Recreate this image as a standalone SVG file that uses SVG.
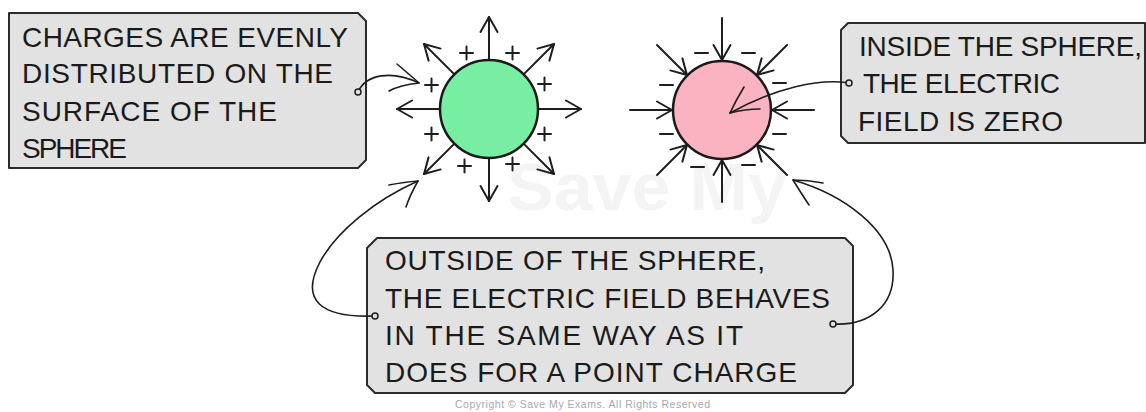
<svg xmlns="http://www.w3.org/2000/svg" width="1146" height="412" viewBox="0 0 1146 412">
<style>
.box{fill:#e2e2e2;stroke:#2b2b2b;stroke-width:2;stroke-linejoin:round}
.t{font-family:"Liberation Sans",Arial,sans-serif;font-size:28px;fill:#1a1a1a}
.ln{fill:none;stroke:#1e1e1e;stroke-width:2;stroke-linecap:round;stroke-linejoin:round}
.cn{fill:none;stroke:#1e1e1e;stroke-width:1.6;stroke-linecap:round;stroke-linejoin:round}
.dot{fill:#e2e2e2;stroke:#1e1e1e;stroke-width:1.5}
.sph{stroke:#1a1a1a;stroke-width:2.5}
.wm{font-family:"Liberation Sans",Arial,sans-serif;font-weight:bold;fill:#f4f4f4}
</style>
<defs>
<marker id="ah" markerUnits="userSpaceOnUse" markerWidth="30" markerHeight="30" viewBox="-20 -15 30 30" refX="0" refY="0" orient="auto">
<path d="M-15,-8.5 L0,0 L-15,8.5" fill="none" stroke="#1e1e1e" stroke-width="2" stroke-linecap="round" stroke-linejoin="round"/>
</marker>
</defs>
<g id="watermark">
<text class="wm" x="507" y="210" font-size="66" textLength="280" lengthAdjust="spacingAndGlyphs">Save My</text>
</g>
<g id="positive-sphere">
<g class="ln" marker-end="url(#ah)">
<line x1="489" y1="60" x2="489" y2="17"/>
<line x1="489" y1="158" x2="489" y2="201"/>
<line x1="440" y1="109" x2="397" y2="109"/>
<line x1="538" y1="109" x2="581" y2="109"/>
<line x1="454.4" y1="74.4" x2="424" y2="44"/>
<line x1="523.6" y1="74.4" x2="554" y2="44"/>
<line x1="454.4" y1="143.6" x2="424" y2="174"/>
<line x1="523.6" y1="143.6" x2="554" y2="174"/>
</g>
<circle class="sph" cx="489" cy="109" r="49" fill="#78eea3"/>
<g class="ln" stroke-width="1.8">
<path d="M460,53h13M466.5,46.5v13"/>
<path d="M506,53h13M512.5,46.5v13"/>
<path d="M538,84h13M544.5,77.5v13"/>
<path d="M538,134h13M544.5,127.5v13"/>
<path d="M506,164h13M512.5,157.5v13"/>
<path d="M458,166h13M464.5,159.5v13"/>
<path d="M425,134h13M431.5,127.5v13"/>
<path d="M425,85h13M431.5,78.5v13"/>
</g>
</g>
<g id="negative-sphere">
<g class="ln" marker-end="url(#ah)">
<line x1="722" y1="18" x2="722" y2="60"/>
<line x1="722" y1="202" x2="722" y2="160"/>
<line x1="630" y1="110" x2="672" y2="110"/>
<line x1="814" y1="110" x2="772" y2="110"/>
<line x1="657" y1="45" x2="687" y2="75"/>
<line x1="787" y1="45" x2="757" y2="75"/>
<line x1="657" y1="175" x2="687" y2="145"/>
<line x1="787" y1="175" x2="757" y2="145"/>
</g>
<circle class="sph" cx="722" cy="110" r="49" fill="#fbb3c1"/>
<g class="ln" stroke-width="1.8">
<path d="M695,53h13M742,53h13M773,83h13M773,134h13M742,165h13M691,167h13M660,134h13M660,85h13"/>
</g>
</g>
<g id="box-charges">
<path class="box" d="M9,13 L358,13 L366,21 L366,160 L358,168 L9,168 Z"/>
<text class="t" x="22" y="47" textLength="326" lengthAdjust="spacing">CHARGES ARE EVENLY</text>
<text class="t" x="22" y="83" textLength="311" lengthAdjust="spacing">DISTRIBUTED ON THE</text>
<text class="t" x="22" y="121" textLength="255" lengthAdjust="spacing">SURFACE OF THE</text>
<text class="t" x="22" y="158" textLength="105" lengthAdjust="spacing">SPHERE</text>
</g>
<g id="box-inside">
<path class="box" d="M848,23 L1145,23 L1145,143 L848,143 L841,136 L841,30 Z"/>
<text class="t" x="859" y="56" textLength="283" lengthAdjust="spacing">INSIDE THE SPHERE,</text>
<text class="t" x="863" y="93" textLength="197" lengthAdjust="spacing">THE ELECTRIC</text>
<text class="t" x="858" y="131" textLength="205" lengthAdjust="spacing">FIELD IS ZERO</text>
</g>
<g id="box-outside">
<path class="box" d="M377,238 L845,238 L853,246 L853,385 L845,393 L375,393 L367,385 L367,248 Z"/>
<text class="t" x="385" y="270" textLength="380" lengthAdjust="spacing">OUTSIDE OF THE SPHERE,</text>
<text class="t" x="385" y="308" textLength="445" lengthAdjust="spacing">THE ELECTRIC FIELD BEHAVES</text>
<text class="t" x="385" y="345" textLength="358" lengthAdjust="spacing">IN THE SAME WAY AS IT</text>
<text class="t" x="385" y="382" textLength="412" lengthAdjust="spacing">DOES FOR A POINT CHARGE</text>
</g>
<g id="connectors">
<path class="cn" d="M358,92 C366,74 392,70 419,83"/>
<path class="cn" d="M397,64 Q410,75 419,83 Q400,85 389,91"/>
<circle class="dot" cx="358" cy="92" r="3"/>
<path class="cn" d="M849,83 C820,78 775,88 730,113"/>
<path class="cn" d="M744,87 Q736,100 730,113 Q745,109 760,109"/>
<circle class="dot" cx="849" cy="83" r="3"/>
<path class="cn" d="M375,316 C320,318 300,300 320,262 C336,232 375,200 418,181"/>
<path class="cn" d="M389,185 Q405,182 418,181 Q410,195 406,207"/>
<circle class="dot" cx="375" cy="316" r="3"/>
<path class="cn" d="M833,324 C870,326 895,305 893,270 C891,230 845,195 793,180"/>
<path class="cn" d="M823,183 Q808,180 793,180 Q801,193 809,205"/>
<circle class="dot" cx="833" cy="324" r="3"/>
</g>
<text x="455" y="408" font-family="Liberation Sans,Arial,sans-serif" font-size="10.5" fill="#a8a8a8" textLength="255" lengthAdjust="spacing">Copyright © Save My Exams. All Rights Reserved</text>
</svg>
